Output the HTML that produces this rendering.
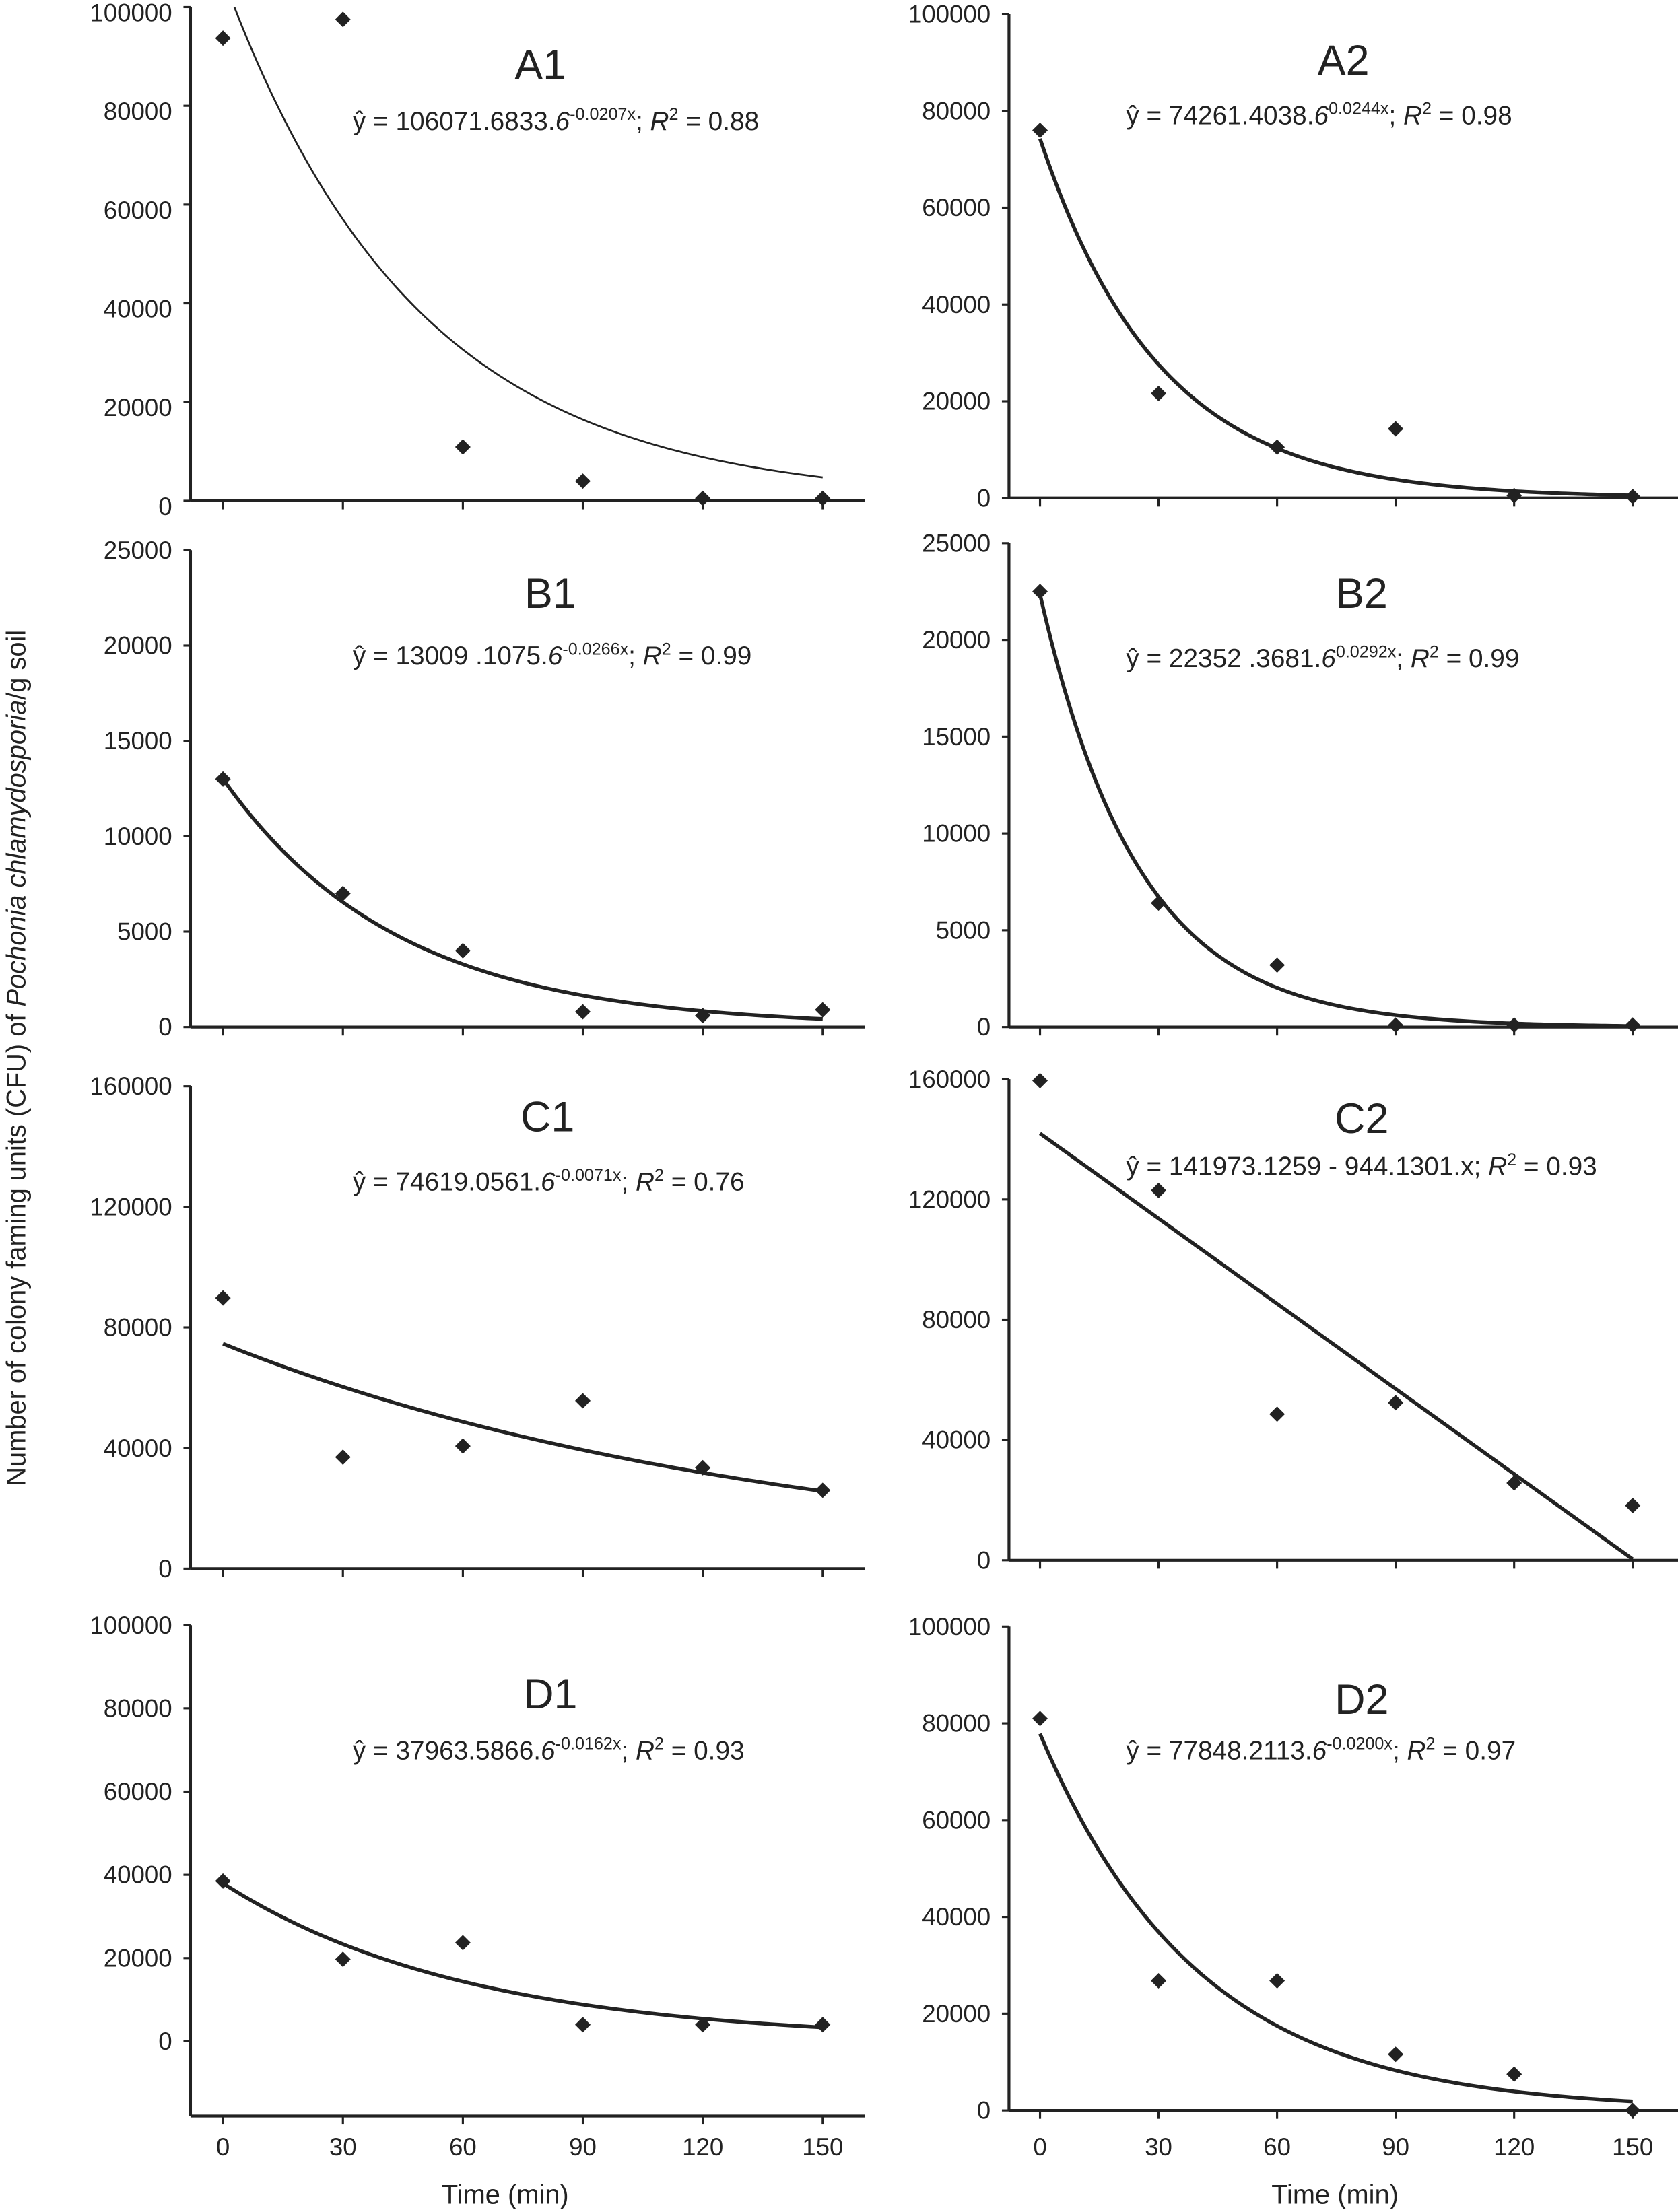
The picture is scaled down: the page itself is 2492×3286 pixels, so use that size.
<!DOCTYPE html>
<html><head><meta charset="utf-8"><style>
html,body{margin:0;padding:0;background:#fff}
svg{display:block}
text{font-family:"Liberation Sans",sans-serif;fill:#222}
</style></head><body>
<svg id="chart" width="2492" height="3286" viewBox="0 0 1189.1 1568" preserveAspectRatio="none" xmlns="http://www.w3.org/2000/svg">
<text transform="translate(18,750) rotate(-90)" text-anchor="middle" font-size="19">Number of colony faming units (CFU) of <tspan font-style="italic">Pochonia chlamydosporia</tspan>/g soil</text>
<text x="358" y="1562" text-anchor="middle" font-size="19">Time (min)</text>
<text x="946" y="1562" text-anchor="middle" font-size="19">Time (min)</text>
</svg>
<script>
const times = [0, 30, 60, 90, 120, 150];
const timeTicks = [0, 30, 60, 90, 120, 150];
const a1Values = [93700, 97500, 10900, 4000, 500, 500];
const a2Values = [76000, 21600, 10500, 14300, 500, 300];
const b1Values = [13000, 7000, 4000, 800, 600, 900];
const b2Values = [22500, 6400, 3200, 100, 100, 100];
const c1Values = [89800, 37000, 40700, 55700, 33500, 26000];
const c2Values = [159500, 123000, 48600, 52400, 25700, 18200];
const d1Values = [38500, 19700, 23700, 4000, 4000, 4000];
const d2Values = [81000, 26800, 26800, 11600, 7500, 0];
const a1Fit = [106071.6833, 0.0207];
const a2Fit = [74261.4038, 0.033];
const b1Fit = [13009.1075, 0.0229];
const b2Fit = [22352.3681, 0.040];
const c1Fit = [74619.0561, 0.0071];
const c2Fit = [141973.1259, 944.1301];
const d1Fit = [37963.5866, 0.0162];
const d2Fit = [77848.2113, 0.0249];
const a1Ticks = [0, 20000, 40000, 60000, 80000, 100000];
const b1Ticks = [0, 5000, 10000, 15000, 20000, 25000];
const c1Ticks = [0, 40000, 80000, 120000, 160000];

const NS = "http://www.w3.org/2000/svg";
const svg = document.getElementById('chart');
function mk(tag, attrs, parent) {
  const e = document.createElementNS(NS, tag);
  for (const k in attrs) e.setAttribute(k, attrs[k]);
  (parent || svg).appendChild(e);
  return e;
}
const panels = [
 {id:'a1', label:'A1', vals:a1Values, fit:a1Fit, kind:'exp', ticks:a1Ticks, ax:135, t0:158, dx:85, y0:355, ytop:5, xAxisY:355, ldy:10, lw:1.3, lab:[383,45], eq:[250,92], eqs:['ŷ = 106071.6833.','6','-0.0207x','; ','R','2',' = 0.88'], xlab:false},
 {id:'a2', label:'A2', vals:a2Values, fit:a2Fit, kind:'exp', ticks:a1Ticks, ax:715, t0:737, dx:84, y0:353, ytop:10, xAxisY:353, ldy:6, lw:2.6, lab:[952,42], eq:[798,88], eqs:['ŷ = 74261.4038.','6','0.0244x','; ','R','2',' = 0.98'], xlab:false},
 {id:'b1', label:'B1', vals:b1Values, fit:b1Fit, kind:'exp', ticks:b1Ticks, ax:135, t0:158, dx:85, y0:728, ytop:390, xAxisY:728, ldy:6, lw:2.6, lab:[390,420], eq:[250,471], eqs:['ŷ = 13009 .1075.','6','-0.0266x','; ','R','2',' = 0.99'], xlab:false},
 {id:'b2', label:'B2', vals:b2Values, fit:b2Fit, kind:'exp', ticks:b1Ticks, ax:715, t0:737, dx:84, y0:728, ytop:385, xAxisY:728, ldy:6, lw:2.6, lab:[965,420], eq:[798,473], eqs:['ŷ = 22352 .3681.','6','0.0292x','; ','R','2',' = 0.99'], xlab:false},
 {id:'c1', label:'C1', vals:c1Values, fit:c1Fit, kind:'exp', ticks:c1Ticks, ax:135, t0:158, dx:85, y0:1112, ytop:770, xAxisY:1112, ldy:6, lw:2.6, lab:[388,791], eq:[250,844], eqs:['ŷ = 74619.0561.','6','-0.0071x','; ','R','2',' = 0.76'], xlab:false},
 {id:'c2', label:'C2', vals:c2Values, fit:c2Fit, kind:'lin', ticks:c1Ticks, ax:715, t0:737, dx:84, y0:1106, ytop:765, xAxisY:1106, ldy:6, lw:2.6, lab:[965,792], eq:[798,833], eqs:['ŷ = 141973.1259 - 944.1301.x; ','','','','R','2',' = 0.93'], xlab:false},
 {id:'d1', label:'D1', vals:d1Values, fit:d1Fit, kind:'exp', ticks:a1Ticks, ax:135, t0:158, dx:85, y0:1447, ytop:1152, xAxisY:1500, ldy:6, lw:2.6, lab:[390,1200], eq:[250,1247], eqs:['ŷ = 37963.5866.','6','-0.0162x','; ','R','2',' = 0.93'], xlab:true},
 {id:'d2', label:'D2', vals:d2Values, fit:d2Fit, kind:'exp', ticks:a1Ticks, ax:715, t0:737, dx:84, y0:1496, ytop:1153, xAxisY:1496, ldy:6, lw:2.6, lab:[965,1204], eq:[798,1247], eqs:['ŷ = 77848.2113.','6','-0.0200x','; ','R','2',' = 0.97'], xlab:true}
];
panels.forEach(p => {
  const g = mk('g', {});
  
  
  const vmax = p.ticks[p.ticks.length - 1];
  const xs = t => p.t0 + t / 30 * p.dx;
  const ys = v => p.y0 - v / vmax * (p.y0 - p.ytop);
  const right = p.ax + 478;
  const yAx = mk('line', {x1:p.ax, y1:p.ytop, x2:p.ax, y2:p.xAxisY, stroke:'#222', 'stroke-width':2}, g);
  
  
  const xAx = mk('line', {x1:p.ax, y1:p.xAxisY, x2:right, y2:p.xAxisY, stroke:'#222', 'stroke-width':2}, g);
  
  
  p.ticks.forEach(v => {
    const y = ys(v);
    mk('line', {x1:p.ax - 5, y1:y, x2:p.ax, y2:y, stroke:'#222', 'stroke-width':1.5}, g);
    const t = mk('text', {x:p.ax - 13, y:y + p.ldy, 'text-anchor':'end', 'font-size':17.5}, g);
    t.textContent = v;
    
    
  });
  timeTicks.forEach(tv => {
    const x = xs(tv);
    mk('line', {x1:x, y1:p.xAxisY, x2:x, y2:p.xAxisY + 6, stroke:'#222', 'stroke-width':1.5}, g);
    if (p.xlab) {
      const t = mk('text', {x:x, y:1528, 'text-anchor':'middle', 'font-size':17.5}, g);
      t.textContent = tv;
      
      
    }
  });
  const cp = mk('clipPath', {id:'clip-' + p.id}, g);
  mk('rect', {x:p.ax, y:p.ytop, width:500, height:p.xAxisY - p.ytop + 2}, cp);
  let d = '';
  for (let t = 0; t <= 150; t += 1) {
    const v = p.kind === 'exp' ? p.fit[0] * Math.exp(-p.fit[1] * t) : p.fit[0] - p.fit[1] * t;
    d += (t ? 'L' : 'M') + xs(t).toFixed(2) + ',' + ys(v).toFixed(2);
  }
  const path = mk('path', {d:d, fill:'none', stroke:'#222', 'stroke-width':p.lw, 'clip-path':'url(#clip-' + p.id + ')'}, g);
  
  
  p.vals.forEach((v, i) => {
    const x = xs(times[i]), y = ys(v), r = 5.5;
    const pt = mk('polygon', {points:`${x},${y-r} ${x+r},${y} ${x},${y+r} ${x-r},${y}`, fill:'#222'}, g);
    
    
  });
  const lb = mk('text', {x:p.lab[0], y:p.lab[1] + 11, 'text-anchor':'middle', 'font-size':30}, g);
  lb.textContent = p.label;
  
  
  const eq = mk('text', {x:p.eq[0], y:p.eq[1], 'font-size':18.5}, g);
  
  
  const parts = p.eqs;
  const add = (txt, attrs) => { if (!txt) return; const s = mk('tspan', attrs || {}, eq); s.textContent = txt; };
  add(parts[0]);
  add(parts[1], {'font-style':'italic'});
  add(parts[2], {'font-size':12, dy:-7});
  add(parts[3], parts[2] ? {dy:7} : {});
  add(parts[4], {'font-style':'italic'});
  add(parts[5], {'font-size':12, dy:-7});
  add(parts[6], {dy:7});
});
</script>
</body></html>
